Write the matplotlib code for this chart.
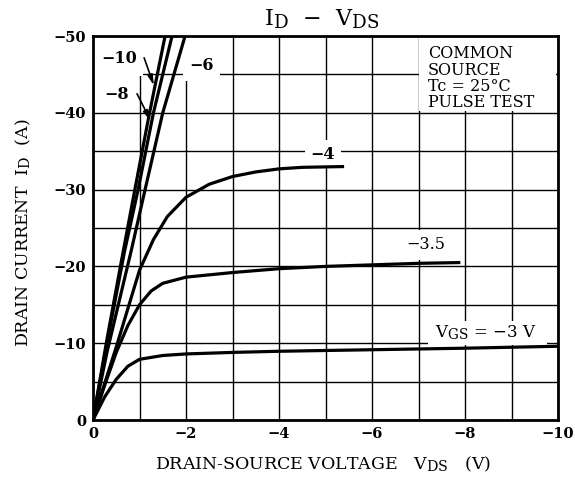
import matplotlib
matplotlib.use("Agg")
import matplotlib.pyplot as plt
import matplotlib._mathtext as _mt
import numpy as np

plt.rcParams['font.family'] = ['DejaVu Serif']
plt.rcParams['mathtext.fontset'] = 'dejavuserif'
_mt.SHRINK_FACTOR = 0.82

# ---- data (VDS in V, ID in A; both negative) ----
vds_m10 = [0, -0.3, -0.62, -0.9, -1.2, -1.55]
id_m10 = [0, -10.5, -21, -30, -39.5, -50]
vds_m8 = [0, -0.3, -0.68, -0.97, -1.3, -1.7]
id_m8 = [0, -10, -22, -30, -40, -50]
vds_m6 = [0, -0.3, -0.82, -1.12, -1.5, -1.98]
id_m6 = [0, -8.8, -22, -30, -40, -50]
vds_m4 = [0, -0.5, -1.0, -1.3, -1.6, -2.0, -2.5, -3.0, -3.5, -4.0, -4.5, -5.4]
id_m4 = [0, -9.5, -19.5, -23.5, -26.5, -29.0, -30.7, -31.7, -32.3, -32.7, -32.9, -33.0]
vds_m35 = [0, -0.25, -0.5, -0.75, -1.0, -1.25, -1.5, -2.0, -3.0, -4.0, -5.0, -6.0, -7.0, -7.9]
id_m35 = [0, -4.5, -8.8, -12.3, -15.0, -16.8, -17.8, -18.6, -19.2, -19.7, -20.0, -20.2, -20.4, -20.5]
vds_m3 = [0, -0.25, -0.5, -0.75, -1.0, -1.5, -2.0, -3.0, -4.0, -6.0, -8.0, -10.0]
id_m3 = [0, -3.0, -5.3, -7.0, -7.9, -8.4, -8.6, -8.8, -8.95, -9.15, -9.35, -9.6]

x_ticks = [0, -2, -4, -6, -8, -10]
x_labels = ['0', '−2', '−4', '−6', '−8', '−10']
y_ticks = [0, -10, -20, -30, -40, -50]
y_labels = ['0', '−10', '−20', '−30', '−40', '−50']

fig = plt.figure(figsize=(5.75, 4.93), dpi=100)
ax = fig.add_axes([93/575, 1-420/493, (558-93)/575, (420-36)/493])
ax.set_xlim(0, -10)
ax.set_ylim(0, -50)

ax.set_xticks(np.arange(0, -10.5, -1), minor=True)
ax.set_yticks(np.arange(0, -50.5, -5), minor=True)
ax.set_xticks(x_ticks)
ax.set_xticklabels(x_labels, fontsize=10.5, fontweight='bold')
ax.set_yticks(y_ticks)
ax.set_yticklabels(y_labels, fontsize=10.5, fontweight='bold')
ax.grid(True, which='both', color='black', linewidth=1.0, zorder=1)
ax.set_axisbelow(True)
ax.tick_params(which='both', length=0, pad=5)
for s in ax.spines.values():
    s.set_linewidth(2.0)
    s.set_zorder(6)

lw = 2.3
for xs, ys in [(vds_m10, id_m10), (vds_m8, id_m8), (vds_m6, id_m6),
               (vds_m4, id_m4), (vds_m35, id_m35), (vds_m3, id_m3)]:
    ax.plot(xs, ys, color='black', linewidth=lw, zorder=3, clip_on=True,
            solid_capstyle='butt')

# white areas behind labels (cover grid only)
ax.fill_between([0.0, -1.08], -44.8, -49.9, color='white', zorder=2, linewidth=0)
ax.fill_between([-1.94, -2.73], -44.2, -49.9, color='white', zorder=2, linewidth=0)
ax.fill_between([-7.21, -9.77], -9.75, -12.9, color='white', zorder=2, linewidth=0)
ax.fill_between([-7.0, -9.95], -40.2, -49.9, color='white', zorder=2, linewidth=0)

lab = dict(ha='center', va='center', zorder=2.5)
ax.text(-0.57, -47.1, '−10', fontsize=11.5, fontweight='bold', **lab)
ax.text(-0.50, -42.4, '−8', fontsize=11.5, fontweight='bold',
        bbox=dict(facecolor='white', edgecolor='none', pad=1), **lab)
ax.text(-2.34, -46.1, '−6', fontsize=11.5, fontweight='bold', **lab)
ax.text(-4.94, -34.6, '−4', fontsize=11.5, fontweight='bold',
        bbox=dict(facecolor='white', edgecolor='none', pad=4), **lab)
ax.text(-7.15, -22.8, '−3.5', fontsize=11.5,
        bbox=dict(facecolor='white', edgecolor='none', pad=5), **lab)
ax.text(-8.45, -11.4, r'V$_{\mathregular{GS}}$ = −3 V', fontsize=12, **lab)

ax.annotate('', xy=(-1.33, -43.2), xytext=(-1.08, -47.5),
            arrowprops=dict(arrowstyle='-|>,head_length=0.6,head_width=0.15', color='black', lw=1.2), zorder=5)
ax.annotate('', xy=(-1.27, -38.6), xytext=(-0.92, -42.8),
            arrowprops=dict(arrowstyle='-|>,head_length=0.6,head_width=0.15', color='black', lw=1.2), zorder=5)

ax.text(-7.2, -48.8, 'COMMON\nSOURCE\nTc = 25°C\nPULSE TEST', fontsize=11.5, ha='left', va='top',
        linespacing=0.95, zorder=4)

fig.text(0.56, 0.962, r'I$_{\mathregular{D}}$  −  V$_{\mathregular{DS}}$', fontsize=16, ha='center', va='center')
fig.text(0.562, 0.058, r'DRAIN-SOURCE VOLTAGE   V$_{\mathregular{DS}}$   (V)', fontsize=12.5, ha='center', va='center')
fig.text(0.04, 0.527, r'DRAIN CURRENT  I$_{\mathregular{D}}$  (A)', fontsize=12.5, ha='center', va='center', rotation=90)

fig.savefig('out.png', dpi=100, facecolor='white')
